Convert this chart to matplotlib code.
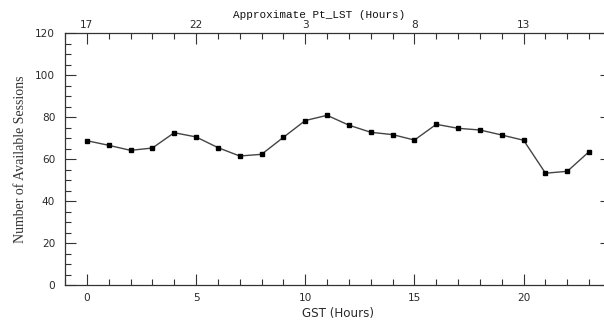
import matplotlib
matplotlib.use("Agg")
import matplotlib.pyplot as plt
from matplotlib.ticker import MultipleLocator, FixedLocator

gst_hours = list(range(24))
sessions = [68.8, 66.6, 64.2, 65.3, 72.6, 70.6, 65.5, 61.5, 62.3, 70.4,
            78.4, 80.9, 76.2, 72.8, 71.7, 69.1, 76.6, 74.7, 73.9, 71.5,
            69.0, 53.3, 54.2, 63.6]
top_tick_pos = [0, 5, 10, 15, 20]
top_tick_labels = ["17", "22", "3", "8", "13"]

W, H = 604, 323
fig = plt.figure(figsize=(W / 100, H / 100), dpi=100)
left, right, top, bottom = 65, 611, 33.3, 285
ax = fig.add_axes([left / W, 1 - bottom / H, (right - left) / W, (bottom - top) / H])

ax.plot(gst_hours, sessions, color="#444444", lw=1.0, marker="s", ms=3.2,
        mfc="black", mec="black", zorder=3)

ax.set_xlim(-1, 24)
ax.set_ylim(0, 120)

tfam, tsize, tcol = "DejaVu Sans", 7.6, "#2a2a2a"
ax.xaxis.set_major_locator(MultipleLocator(5))
ax.xaxis.set_minor_locator(MultipleLocator(1))
ax.yaxis.set_major_locator(MultipleLocator(20))
ax.yaxis.set_minor_locator(MultipleLocator(5))
ax.tick_params(which="both", direction="in", top=False, right=True, color="#333333", width=0.8)
ax.tick_params(which="major", length=8)
ax.tick_params(which="minor", length=4)
ax.tick_params(axis="x", pad=6, labelsize=tsize, labelcolor=tcol)
ax.tick_params(axis="y", pad=7, labelsize=tsize, labelcolor=tcol)
for lab in ax.get_xticklabels() + ax.get_yticklabels():
    lab.set_fontfamily(tfam)

for s in ax.spines.values():
    s.set_color("#333333")
    s.set_linewidth(0.9)

ax2 = ax.twiny()
ax2.set_xlim(ax.get_xlim())
ax2.xaxis.set_major_locator(FixedLocator(top_tick_pos))
ax2.set_xticklabels(top_tick_labels, fontfamily=tfam, fontsize=tsize, color=tcol)
ax2.xaxis.set_minor_locator(MultipleLocator(1))
ax2.tick_params(which="both", direction="in", color="#333333", width=0.8, pad=2.5)
ax2.tick_params(which="major", length=8)
ax2.tick_params(which="minor", length=4)
for s in ax2.spines.values():
    s.set_visible(False)

ax.set_xlabel("GST (Hours)", fontfamily="DejaVu Sans", fontsize=8.6, labelpad=3, color=tcol)
ax.set_ylabel("Number of Available Sessions", fontfamily="Liberation Serif", fontsize=10,
              labelpad=6, color="#333333")
fig.text(233 / W, 1 - 18 / H, "Approximate Pt_LST (Hours)", fontfamily="Liberation Mono",
         fontsize=7.9, ha="left", va="baseline", color="#111111")

fig.savefig("out.png", dpi=100)
